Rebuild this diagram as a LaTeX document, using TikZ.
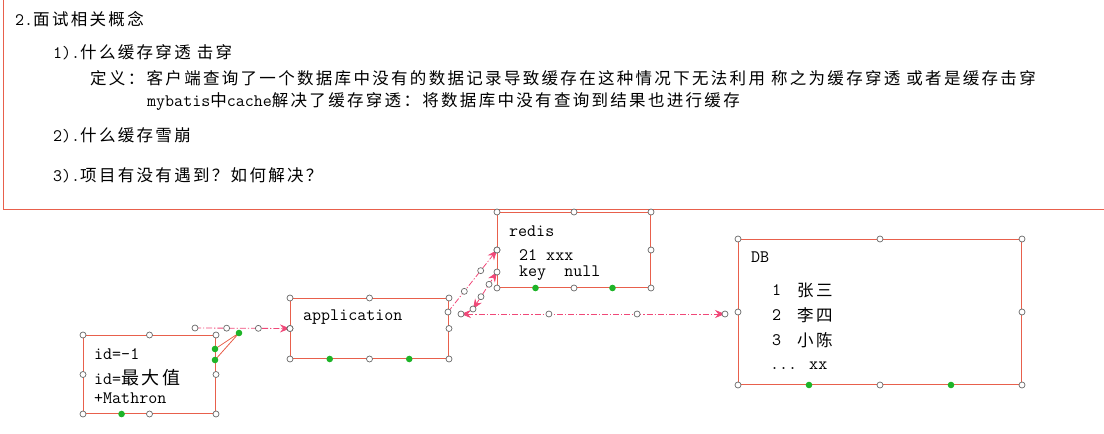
\documentclass[tikz,border=0pt]{standalone}
\usepackage{fontspec}
\newfontfamily\zh[LetterSpace=14]{Noto Sans CJK SC}
\usetikzlibrary{arrows.meta, calc}
\definecolor{boxred}      {RGB}{232, 96, 76}
\definecolor{linkpink}    {RGB}{240, 72, 120}
\definecolor{handlegray}  {RGB}{105, 105, 105}
\definecolor{handlegreen} {RGB}{30, 180, 40}

\begin{document}
\begin{tikzpicture}[x=1pt, y=-1pt,
        frame/.style={draw=boxred, line width=1pt, inner sep=0pt, anchor=north west},
        txt/.style={anchor=west, inner sep=0pt, font=\ttfamily\fontsize{17.5}{20}\selectfont},
        link/.style={draw=linkpink, line width=0.8pt, dash pattern=on 6pt off 2pt on 1.2pt off 2pt},
        tip/.style={-{Stealth[length=10pt, width=8pt]}},
        tips/.style={{Stealth[length=10pt, width=8pt]}-{Stealth[length=10pt, width=8pt]}},
        handle/.style={draw=handlegray, fill=white, line width=0.7pt},
        grip/.style={fill=handlegreen}]
        \useasboundingbox (0,0) rectangle (1104,434);
        \clip (0,0) rectangle (1104,434);

        % notes (runs past the top and right edge)
        \draw[boxred, line width=1pt] (3,-10) |- (1120,209);
        \node[txt] (head) at (15,19) {2.{\zh\fontsize{16.5}{20}\selectfont 面试相关概念}};
        \node[txt] (qa) at (53,52) {1).{\zh\fontsize{16.5}{20}\selectfont 什么缓存穿透 击穿}};
        \node[txt] (define) at (90,78) {\zh\fontsize{16.5}{20}\selectfont 定义：客户端查询了一个数据库中没有的数据记录导致缓存在这种情况下无法利用 称之为缓存穿透 或者是缓存击穿};
        \node[txt] (mybatis) at (147,102) {mybatis{\zh\fontsize{16.5}{20}\selectfont 中}cache{\zh\fontsize{16.5}{20}\selectfont 解决了缓存穿透：将数据库中没有查询到结果也进行缓存}};
        \node[txt] (qb) at (53,135) {2).{\zh\fontsize{16.5}{20}\selectfont 什么缓存雪崩}};
        \node[txt] (qc) at (53,175) {3).{\zh\fontsize{16.5}{20}\selectfont 项目有没有遇到？如何解决？}};

        % boxes
        \node[frame, minimum width=132, minimum height=78] (idbox) at (83,335) {};
        \node[frame, minimum width=158, minimum height=60] (app) at (290,298) {};
        \node[frame, minimum width=153, minimum height=75] (redis) at (497,212) {};
        \node[frame, minimum width=283, minimum height=145] (db) at (738,239) {};

        \node[txt] (idneg) at (94,354) {id=-1};
        \node[txt] (idmax) at (94,378) {id={\zh\fontsize{18}{20}\selectfont 最大值}};
        \node[txt] (idplus) at (94,398) {+Mathron};
        \node[txt] (appname) at (303,317) {application};
        \node[txt] (redisname) at (509,231) {redis};
        \node[txt] (hit) at (519,255) {21 xxx};
        \node[txt] (miss) at (519,273) {key\ \ null};
        \node[txt] (dbname) at (751,257) {DB};
        \foreach \n/\who/\y in {1/张三/290, 2/李四/315, 3/小陈/340}
        {
            \node[txt] (num\n) at (772,\y) {\n};
            \node[txt] (who\n) at (797,\y) {\zh\fontsize{16.5}{20}\selectfont \who};
        }
        \node[txt] (more) at (770,366) {... xx};

        % connectors
        \coordinate (idout) at (195,328);
        \coordinate (appout) at (448,312);
        \coordinate (cachelo) at (473,309);
        \coordinate (cachehi) at (497,272);
        \coordinate (dblo) at (461,314);
        \coordinate (dbhi) at (725,314);
        \coordinate (pin) at (239,333);
        \coordinate (pina) at (215,349);
        \coordinate (pinb) at (215,360);

        \draw[link, tip] (idout) -- (app.west);
        \draw[link, tip] (appout) -- (redis.west);
        \draw[link, tips] (cachelo) -- (cachehi);
        \draw[link, tips] (dblo) -- (dbhi);
        \draw[boxred, line width=0.8pt] (pin) -- (pina) (pin) -- (pinb);

        % handles
        \foreach \b in {idbox, app, redis, db}
            \foreach \a in {north west, north, north east, east, south east, south, south west, west}
                \draw[handle] (\b.\a) circle (3);
        \foreach \b/\p in {idbox/0.29, app/0.25, app/0.75, redis/0.25, redis/0.75, db/0.25, db/0.75}
            \fill[grip] ($(\b.south west)!\p!(\b.south east)$) circle (3.3);
        \foreach \s/\e in {idout/app.west, appout/redis.west, cachelo/cachehi, dblo/dbhi}
            \foreach \t in {0, 0.333, 0.667, 1}
                \draw[handle] ($(\s)!\t!(\e)$) circle (3);
        \foreach \g in {pin, pina, pinb}
            \fill[grip] (\g) circle (3.3);
    \end{tikzpicture}
\end{document}
